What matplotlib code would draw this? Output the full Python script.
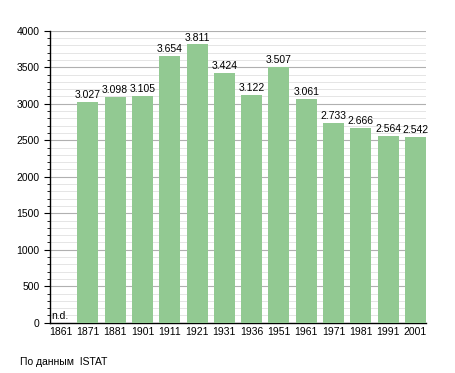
import matplotlib
matplotlib.use("Agg")
import matplotlib.pyplot as plt
from matplotlib.ticker import MultipleLocator

years = ["1861", "1871", "1881", "1901", "1911", "1921", "1931",
         "1936", "1951", "1961", "1971", "1981", "1991", "2001"]
population = [None, 3027, 3098, 3105, 3654, 3811, 3424,
              3122, 3507, 3061, 2733, 2666, 2564, 2542]
value_labels = ["n.d.", "3.027", "3.098", "3.105", "3.654", "3.811", "3.424",
                "3.122", "3.507", "3.061", "2.733", "2.666", "2.564", "2.542"]

plt.rcParams['font.family'] = ['Liberation Sans', 'DejaVu Sans']

fig = plt.figure(figsize=(4.55, 3.73), dpi=100)
ax = fig.add_axes([50 / 455, 1 - 322.7 / 373, 376 / 455, 292 / 373])

bw = 0.77
x = list(range(len(years)))
heights = [v if v is not None else 0 for v in population]
ax.bar(x, heights, width=bw, align='edge', color='#92c992', zorder=3)

for i, v in enumerate(population):
    if v is None:
        ax.text(i + 0.05, 30, value_labels[i], fontsize=7.5, ha='left', va='bottom', zorder=4)
    else:
        ax.text(i + bw / 2, v + 25, value_labels[i], fontsize=7.5, ha='center', va='bottom', zorder=4)

ax.set_xlim(0, len(years) - 1 + bw)
ax.set_ylim(0, 4000)
ax.set_xticks([i + bw / 2 for i in x])
ax.set_xticklabels(years, fontsize=7.5)
ax.yaxis.set_major_locator(MultipleLocator(500))
ax.yaxis.set_minor_locator(MultipleLocator(100))
ax.tick_params(axis='y', labelsize=7.5, length=4, width=0.8)
ax.tick_params(axis='y', which='minor', length=2, width=0.6)
ax.tick_params(axis='x', length=0, pad=3)

ax.grid(axis='y', which='major', color='#b0b0b0', linewidth=0.8, zorder=0)
ax.grid(axis='y', which='minor', color='#e0e0e0', linewidth=0.6, zorder=0)

for side in ['top', 'right']:
    ax.spines[side].set_visible(False)
ax.spines['left'].set_linewidth(1)
ax.spines['bottom'].set_linewidth(1)

fig.text(20 / 455, 1 - 362 / 373, "По данным  ISTAT", fontsize=7.5, va='center')

fig.savefig("out.png", dpi=100)
